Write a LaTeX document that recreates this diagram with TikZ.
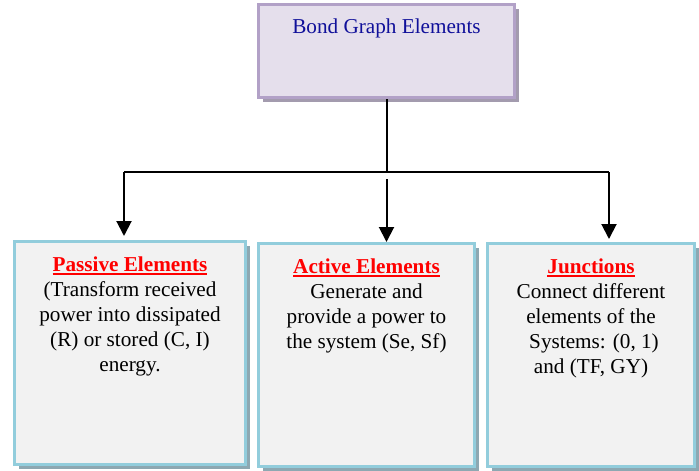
\documentclass[tikz,border=0pt]{standalone}
\usepackage{fontspec}
\setmainfont{Liberation Serif}
\usetikzlibrary{arrows.meta,shadows}

\definecolor{rootfill}{HTML}{E5DFEC}
\definecolor{rootedge}{HTML}{B2A1C7}
\definecolor{rootshade}{HTML}{A39BAE}
\definecolor{boxfill}{HTML}{F2F2F2}
\definecolor{boxedge}{HTML}{92CDDC}
\definecolor{boxshade}{HTML}{8DA8B2}
\definecolor{titleblue}{HTML}{10109A}

\tikzset{
  panel/.style={rectangle, draw=boxedge, fill=boxfill, line width=3pt,
    inner sep=0pt, minimum height=223pt,
    drop shadow={shadow xshift=4pt, shadow yshift=-4pt, fill=boxshade, opacity=1}},
  rootbox/.style={rectangle, draw=rootedge, fill=rootfill, line width=3pt,
    inner sep=0pt, minimum width=256pt, minimum height=93pt,
    drop shadow={shadow xshift=4pt, shadow yshift=-4pt, fill=rootshade, opacity=1}},
  txt/.style={inner sep=0pt, align=center, anchor=north,
    font=\fontsize{21.2}{25}\selectfont},
  wire/.style={line width=2pt, black},
  arr/.style={wire, -{Triangle[width=15pt,length=15pt]}}
}
% red bold heading with a solid underline
\newsavebox{\headbox}
\newcommand{\headline}[1]{{\color{red}\sbox{\headbox}{\textbf{#1}}%
  \rlap{\rule[-3pt]{\wd\headbox}{1.8pt}}\usebox{\headbox}}}

\begin{document}
\begin{tikzpicture}[x=1pt, y=-1pt]
\useasboundingbox (0,0) rectangle (699,471);

% boxes
\node[rootbox] (root) at (386.5,51) {};
\node[panel, minimum width=231pt] (passive) at (130,353) {};
\node[panel, minimum width=216pt] (active) at (366.5,355) {};
\node[panel, minimum width=207pt] (junc) at (591,355) {};

% texts
\node[txt, anchor=base, text=titleblue] (roottext) at (386.5,34) {Bond Graph Elements};
\node[txt] (passivetext) at (130,257) {\headline{Passive Elements}\\
  (Transform received\\ power into dissipated\\ (R) or stored (C, I)\\ energy.};
\node[txt] (activetext) at (366.5,259) {\headline{Active Elements}\\
  Generate and\\ provide a power to\\ the system (Se, Sf)};
\node[txt] (junctext) at (591,259) {\headline{Junctions}\\
  Connect different\\ elements of the\\ \hspace*{6pt}Systems: (0, 1)\\ and (TF, GY)};

% connectors
\coordinate (busL) at (124,172);
\coordinate (busM) at (386.5,172);
\coordinate (busR) at (609,172);
\coordinate (midtop) at (386.5,179);
\draw[wire] (root.south) -- (busM);
\draw[wire] (busL) -- (busR);
\draw[arr, shorten >=4pt] (busL) -- (busL |- passive.north);
\draw[arr] (midtop) -- (midtop |- active.north);
\draw[arr, shorten >=3pt] (busR) -- (busR |- junc.north);
\end{tikzpicture}
\end{document}
